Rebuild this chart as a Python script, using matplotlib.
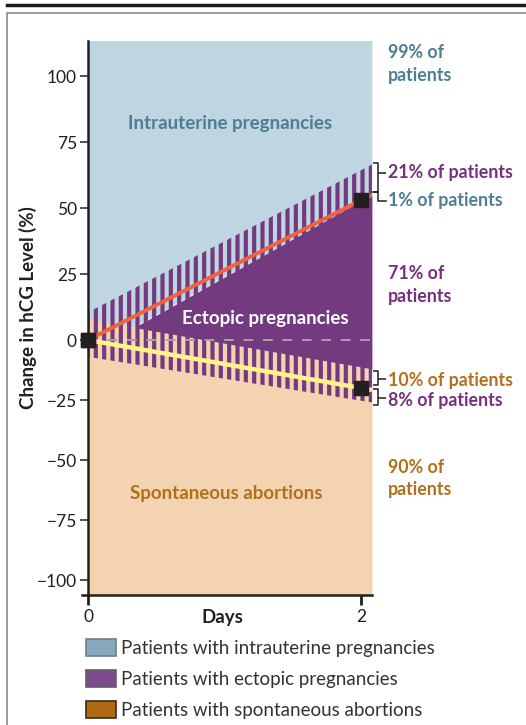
import numpy as np
import matplotlib
matplotlib.use('Agg')
import matplotlib.pyplot as plt
import matplotlib.transforms as mtransforms
from matplotlib.patches import Patch
from matplotlib.lines import Line2D

plt.rcParams['font.family'] = ['Lato', 'DejaVu Sans']
plt.rcParams['hatch.linewidth'] = 3.0

# ------------------------------------------------------------
# Data (change in hCG, %)
# ------------------------------------------------------------
band_days = [0, 2.08]                 # panel runs a little past day 2
iup_hatch_top = [10.5, 66.5]          # top of striped overlap band (IUP / ectopic)
ectopic_top = [-5, 55]                # blue -> solid purple boundary
ectopic_bottom = [8, -12]             # solid purple -> peach boundary
sab_hatch_bottom = [-7, -26]          # bottom of striped overlap band (SAB / ectopic)

line_days = [0, 2, 2.08]
min_rise_iup = [0, 53, 55]            # orange line
min_fall_sab = [0, -20, -20.8]        # yellow line
marker_days = [0, 2]

y_ticks = [-100, -75, -50, -25, 0, 25, 50, 75, 100]
x_ticks = [0, 2]

region_labels = ['Intrauterine pregnancies', 'Ectopic pregnancies', 'Spontaneous abortions']
region_pos = [(1.04, 82), (1.30, 8), (1.01, -64)]

side_labels = ['99% of\npatients', '21% of patients', '1% of patients', '71% of\npatients',
               '10% of patients', '8% of patients', '90% of\npatients']
side_y = [104.5, 63.6, 52.7, 20.8, -16.7, -25, -57.7]

legend_labels = ['Patients with intrauterine pregnancies',
                 'Patients with ectopic pregnancies',
                 'Patients with spontaneous abortions']

# colours
BLUE_BG = '#BFD5E1'
PURPLE = '#743A80'
PEACH = '#F4D3B0'
TEAL = '#4D7F93'
PURPLE_TXT = '#76307F'
ORANGE_TXT = '#B3701C'
DARK = '#231F20'
side_colors = [TEAL, PURPLE_TXT, TEAL, PURPLE_TXT, ORANGE_TXT, PURPLE_TXT, ORANGE_TXT]

# y axis is stretched more above zero than below
K = 60 / 66


def fwd(y):
    y = np.asarray(y, dtype=float)
    return np.where(y >= 0, y, y * K)


def inv(y):
    y = np.asarray(y, dtype=float)
    return np.where(y >= 0, y, y / K)


fig = plt.figure(figsize=(5.26, 7.25), dpi=100)
ax = fig.add_axes([81.9 / 526, 1 - 595 / 725, 290 / 526, 554 / 725])
ax.set_yscale('function', functions=(fwd, inv))
ax.set_xlim(-0.045, 2.08)
ax.set_ylim(-106.25, 113.3)

top = [130, 130]
bottom = [-130, -130]
ax.fill_between(band_days, ectopic_top, top, color=BLUE_BG, lw=0, zorder=1)
ax.fill_between(band_days, bottom, ectopic_bottom, color=PEACH, lw=0, zorder=1.1)
a = np.array(ectopic_top)
c = np.array(ectopic_bottom)
ax.fill_between(band_days, c, a, where=a > c, interpolate=True, color=PURPLE, lw=0, zorder=1.2)

# striped overlap bands
ax.fill_between(band_days, sab_hatch_bottom, iup_hatch_top, facecolor='none',
                edgecolor=PURPLE, hatch='||', lw=0, zorder=1.3)

ax.hlines(0, band_days[0], band_days[-1], colors='#A3A3A3', linestyles=(0, (5, 5)),
          lw=1.4, zorder=1.5)
ax.plot(line_days, min_rise_iup, color='#EF6340', lw=2.8, zorder=2, solid_capstyle='butt')
ax.plot(line_days, min_fall_sab, color='#FFF38C', lw=3.2, zorder=2, solid_capstyle='butt')
ax.plot(marker_days, [min_rise_iup[0], min_rise_iup[1]], 's', color=DARK, ms=9.5, zorder=4,
        clip_on=False)
ax.plot(marker_days, [min_fall_sab[0], min_fall_sab[1]], 's', color=DARK, ms=9.5, zorder=4,
        clip_on=False)

# spines & ticks
for s in ['top', 'right']:
    ax.spines[s].set_visible(False)
ax.spines['left'].set_position(('data', 0))
ax.spines['left'].set_linewidth(1.8)
ax.spines['bottom'].set_linewidth(1.8)
ax.spines['left'].set_color(DARK)
ax.spines['bottom'].set_color(DARK)
ax.set_yticks(y_ticks)
ax.set_yticklabels([str(v).replace('-', '\u2212') for v in y_ticks])
ax.set_xticks(x_ticks)
ax.tick_params(axis='y', length=5.5, width=1.1, pad=2.5, labelsize=12.5, colors=DARK)
ax.tick_params(axis='x', length=7, width=2, pad=3, labelsize=12.5, colors=DARK)
ax.minorticks_off()

# region labels
ax.text(*region_pos[0], region_labels[0], color=TEAL, fontsize=13.5, fontweight='bold',
        ha='center', va='center', zorder=5)
ax.text(*region_pos[1], region_labels[1], color='white', fontsize=13.5, fontweight='bold',
        ha='center', va='center', zorder=5)
ax.text(*region_pos[2], region_labels[2], color=ORANGE_TXT, fontsize=13.5, fontweight='bold',
        ha='center', va='center', zorder=5)

# labels to the right of the panel
trans = mtransforms.blended_transform_factory(ax.transAxes, ax.transData)
for lab, yv, col in zip(side_labels, side_y, side_colors):
    ax.text(1.0555, yv, lab, transform=trans, color=col, fontsize=12.8, fontweight='bold',
            ha='left', va='center', linespacing=1.42, clip_on=False)


def bracket(y_top, y_bot, y_mid):
    xl, xv, xr = 1.005, 1.021, 1.050
    kw = dict(transform=trans, color=DARK, lw=1.1, clip_on=False, solid_capstyle='butt')
    ax.plot([xl, xv, xv, xl], [y_top, y_top, y_bot, y_bot], **kw)
    ax.plot([xv, xr], [y_mid, y_mid], **kw)


bracket(67, 56.2, 63.3)
ax.plot([1.005, 1.021, 1.021, 1.050], [56.2, 56.2, 52.7, 52.7], transform=trans, color=DARK,
        lw=1.1, clip_on=False)
bracket(-12.9, -18.9, -16.2)
bracket(-20.2, -27, -24)

# axis titles
fig.text(28 / 526, 1 - 308 / 725, 'Change in hCG Level (%)', rotation=90, fontsize=13.5,
         fontweight='bold', color=DARK, ha='center', va='center')
fig.text(222 / 526, 1 - 617 / 725, 'Days', fontsize=13.5, fontweight='bold', color=DARK,
         ha='center', va='center')

# legend
handles = [Patch(facecolor='#87A9BD', edgecolor='#6F8088', lw=1.2),
           Patch(facecolor='#7D4B8C', edgecolor='#6A5A70', lw=1.2),
           Patch(facecolor='#B06A13', edgecolor='#3A2A1A', lw=1.2)]
fig.legend(handles, legend_labels, loc='upper left', bbox_to_anchor=(86 / 526, 1 - 639 / 725),
           frameon=False, fontsize=13.5, handlelength=1.6, handleheight=1.0,
           handletextpad=0.25, labelspacing=0.7, borderpad=0, borderaxespad=0,
           labelcolor='#333333')

# page frame
fig.add_artist(Line2D([7 / 526, 1], [1 - 5 / 725, 1 - 5 / 725], transform=fig.transFigure,
                      color='#1A1A1A', lw=2.5))
fig.add_artist(Line2D([1, 7 / 526, 7 / 526], [1 - 13 / 725, 1 - 13 / 725, 0],
                      transform=fig.transFigure, color='#8A8A8A', lw=1.2))

fig.savefig('out.png', dpi=100)
